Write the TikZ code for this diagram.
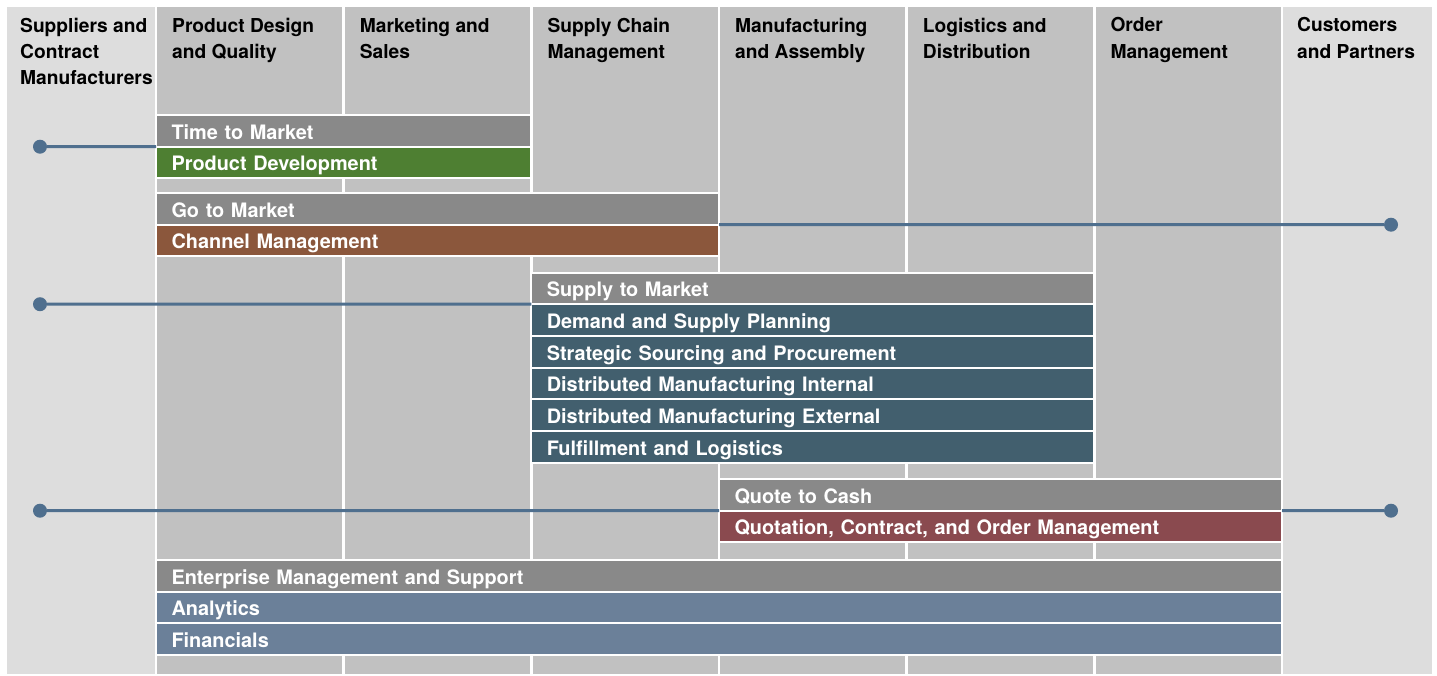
\documentclass[tikz,border=0pt]{standalone}
\usepackage{fontspec}
\setmainfont{TeX Gyre Heros}
\usepackage{tikz}

\definecolor{outergray}{RGB}{221,221,221}
\definecolor{colgray}{RGB}{193,193,193}
\definecolor{headgray}{RGB}{137,137,137}
\definecolor{devgreen}{RGB}{78,127,50}
\definecolor{chanbrown}{RGB}{139,87,60}
\definecolor{supplyteal}{RGB}{66,95,110}
\definecolor{quotered}{RGB}{138,74,79}
\definecolor{entblue}{RGB}{107,128,153}
\definecolor{linkblue}{RGB}{79,111,142}

\begin{document}
\begin{tikzpicture}[x=1pt,y=1pt,yscale=-1,
    colhead/.style={anchor=north west,inner sep=0pt,align=left,font=\bfseries\fontsize{19.2}{26.3}\selectfont},
    bar/.style={anchor=north west,draw=white,line width=2pt,outer sep=0pt,minimum height=31.7pt,
      inner xsep=15.5pt,inner ysep=0pt,text=white,align=left,text height=16.5pt,text depth=0pt,
      font=\bfseries\fontsize{19.9}{20}\selectfont},
    dot/.style={circle,fill=linkblue,minimum size=14pt,inner sep=0pt},
    link/.style={linkblue,line width=3pt}]
  \useasboundingbox[fill=white] (0,0) rectangle (1437,675);

  %Lanes
  \fill[outergray] (7,7) rectangle (1432,674);
  \fill[colgray] (156,7) rectangle (1282,674);
  \foreach \i in {0,...,6}
    \draw[white,line width=2.5pt] (156+187.67*\i,7) -- (156+187.67*\i,674);

  % Text Node
  \node[colhead] (hsup) at (20,17.5) {Suppliers and\\Contract\\Manufacturers};
  % Text Node
  \node[colhead] (hpdq) at (172,17.5) {Product Design\\and Quality};
  % Text Node
  \node[colhead] (hmks) at (359.7,17.5) {Marketing and\\Sales};
  % Text Node
  \node[colhead] (hscm) at (547.3,17.5) {Supply Chain\\Management};
  % Text Node
  \node[colhead] (hmfg) at (735,17.5) {Manufacturing\\and Assembly};
  % Text Node
  \node[colhead] (hlog) at (922.7,17.5) {Logistics and\\Distribution};
  % Text Node
  \node[colhead] (hord) at (1110.3,17.5) {Order\\Management};
  % Text Node
  \node[colhead] (hcus) at (1297,17.5) {Customers\\and Partners};

  %Time to market
  \node[bar,fill=headgray,text width=344.3pt] (ttm) at (156,115) {Time to Market};
  \node[bar,fill=devgreen,text width=344.3pt] (pdev) at (ttm.south west) {Product Development};
  %Go to market
  \node[bar,fill=headgray,text width=532pt] (gtm) at (156,193) {Go to Market};
  \node[bar,fill=chanbrown,text width=532pt] (chm) at (gtm.south west) {Channel Management};
  %Supply to market
  \node[bar,fill=headgray,text width=532pt] (stm) at (531.3,272.5) {Supply to Market};
  \node[bar,fill=supplyteal,text width=532pt] (dsp) at (stm.south west) {Demand and Supply Planning};
  \node[bar,fill=supplyteal,text width=532pt] (ssp) at (dsp.south west) {Strategic Sourcing and Procurement};
  \node[bar,fill=supplyteal,text width=532pt] (dmi) at (ssp.south west) {Distributed Manufacturing Internal};
  \node[bar,fill=supplyteal,text width=532pt] (dme) at (dmi.south west) {Distributed Manufacturing External};
  \node[bar,fill=supplyteal,text width=532pt] (ful) at (dme.south west) {Fulfillment and Logistics};
  %Quote to cash
  \node[bar,fill=headgray,text width=532pt] (qtc) at (719,479) {Quote to Cash};
  \node[bar,fill=quotered,text width=532pt] (qcom) at (qtc.south west) {Quotation, Contract, and Order Management};
  %Enterprise
  \node[bar,fill=headgray,text width=1095pt] (ems) at (156,560) {Enterprise Management and Support};
  \node[bar,fill=entblue,text width=1095pt] (ana) at (ems.south west) {Analytics};
  \node[bar,fill=entblue,text width=1095pt] (fin) at (ana.south west) {Financials};

  %Straight Lines
  \node[dot] (sup1) at (40,146.7) {};
  \draw[link] (sup1) -- (ttm.south west);
  %Straight Lines
  \node[dot] (cus1) at (1391,224.7) {};
  \draw[link] (gtm.south east) -- (cus1);
  %Straight Lines
  \node[dot] (sup2) at (40,304.2) {};
  \draw[link] (sup2) -- (stm.south west);
  %Straight Lines
  \node[dot] (sup3) at (40,510.7) {};
  \draw[link] (sup3) -- (qtc.south west);
  %Straight Lines
  \node[dot] (cus2) at (1391,510.7) {};
  \draw[link] (qtc.south east) -- (cus2);
\end{tikzpicture}
\end{document}
